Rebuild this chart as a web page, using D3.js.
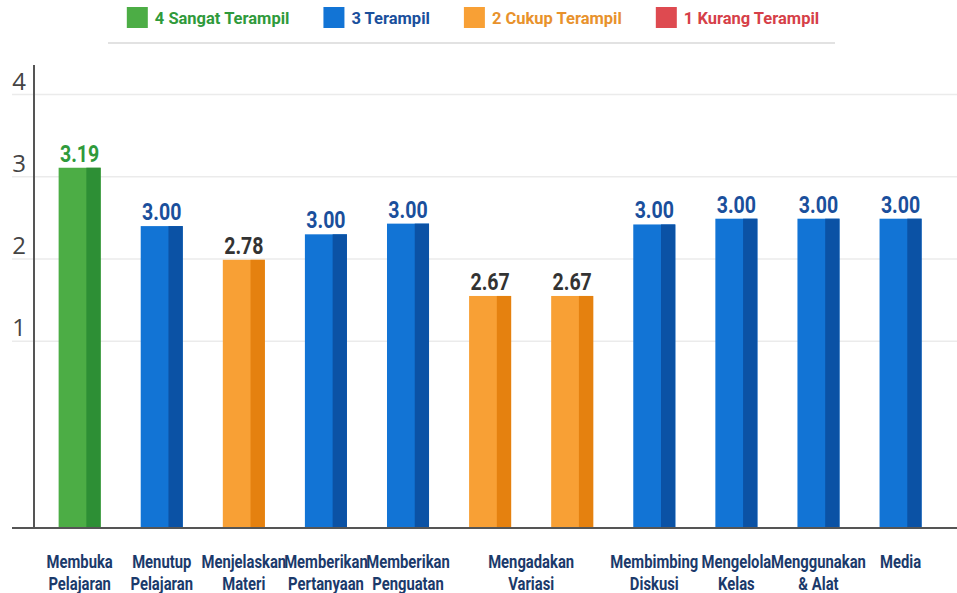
<!DOCTYPE html>
<html><head><meta charset="utf-8">
<script src="https://cdn.jsdelivr.net/npm/d3@7/dist/d3.min.js"></script>
<style>
html,body{margin:0;padding:0;background:#fff;}
svg{display:block;}
</style></head>
<body>
<div id="chart"></div>
<script>
// ---- data ----
const labelValues = [3.19, 3.00, 2.78, 3.00, 3.00, 2.67, 2.67, 3.00, 3.00, 3.00, 3.00];
// bar heights as drawn in the picture, in axis units
const barLevels   = [3.11, 2.40, 1.99, 2.30, 2.43, 1.55, 1.55, 2.42, 2.49, 2.49, 2.49];
// category group (legend key) per bar
const barGroups   = [4, 3, 2, 3, 3, 2, 2, 3, 3, 3, 3];
// x-axis labels: text lines and the bars they sit under
const axisLabels = [
  {lines:["Membuka","Pelajaran"], bars:[0]},
  {lines:["Menutup","Pelajaran"], bars:[1]},
  {lines:["Menjelaskan","Materi"], bars:[2]},
  {lines:["Memberikan","Pertanyaan"], bars:[3]},
  {lines:["Memberikan","Penguatan"], bars:[4]},
  {lines:["Mengadakan","Variasi"], bars:[5,6]},
  {lines:["Membimbing","Diskusi"], bars:[7]},
  {lines:["Mengelola","Kelas"], bars:[8]},
  {lines:["Menggunakan","& Alat"], bars:[9]},
  {lines:["Media"], bars:[10]}
];
const legendKeys   = [4, 3, 2, 1];
const legendLabels = ["4 Sangat Terampil", "3 Terampil", "2 Cukup Terampil", "1 Kurang Terampil"];
const yTicks = [1, 2, 3, 4];

// ---- styles ----
const FONT = "Roboto,'Noto Sans',sans-serif";
const light = {4:"#4cad45", 3:"#1274d5", 2:"#f8a035", 1:"#de4a50"};
const dark  = {4:"#2d8f35", 3:"#0b52a5", 2:"#e5810f", 1:"#b8333a"};
const legendText = {4:"#2f9a3b", 3:"#1a4f9c", 2:"#e8922c", 1:"#d63f48"};
const valueText  = {4:"#2f9a3b", 3:"#1a4f9c", 2:"#333333", 1:"#333333"};

const W = 957, H = 593;
const svg = d3.select("#chart").append("svg").attr("width", W).attr("height", H);

const x = d3.scaleBand().domain(d3.range(labelValues.length))
  .range([38.1, 942.1]).paddingInner(0.488).paddingOuter(0.25);
const y = d3.scaleLinear().domain([-1.273, 4.36]).range([528, 65]);
const base = y(y.domain()[0]);

// gridlines
svg.append("g").selectAll("line").data(yTicks).join("line")
  .attr("x1", 12).attr("x2", W)
  .attr("y1", d => y(d)).attr("y2", d => y(d))
  .attr("stroke", "#ebebeb").attr("stroke-width", 1.5);

// y tick labels
svg.append("g").selectAll("text").data(yTicks).join("text")
  .attr("x", 19).attr("y", d => y(d) - 5)
  .attr("text-anchor", "middle")
  .attr("font-family", "'Open Sans','Noto Sans',sans-serif")
  .attr("font-size", 24).attr("fill", "#444")
  .text(d => d);

// bars
const bars = svg.append("g").selectAll("g")
  .data(labelValues.map((v,i)=>({v, lvl:barLevels[i], g:barGroups[i], i})))
  .join("g");
bars.append("rect")
  .attr("x", d => x(d.i)).attr("width", x.bandwidth())
  .attr("y", d => y(d.lvl)).attr("height", d => base - y(d.lvl))
  .attr("fill", d => light[d.g]);
bars.append("rect")
  .attr("x", d => x(d.i) + x.bandwidth()*0.66).attr("width", x.bandwidth()*0.34)
  .attr("y", d => y(d.lvl)).attr("height", d => base - y(d.lvl))
  .attr("fill", d => dark[d.g]);
bars.append("text")
  .attr("transform", d => `translate(${x(d.i) + x.bandwidth()/2},${y(d.lvl) - 6}) scale(0.85,1)`)
  .attr("text-anchor", "middle")
  .attr("font-family", FONT).attr("font-weight", "bold").attr("font-size", 23)
  .attr("fill", d => valueText[d.g])
  .text(d => d.v.toFixed(2));

// axes lines
svg.append("line").attr("x1", 34).attr("x2", 34).attr("y1", 65).attr("y2", base)
  .attr("stroke", "#555").attr("stroke-width", 2);
svg.append("line").attr("x1", 12).attr("x2", W).attr("y1", base).attr("y2", base)
  .attr("stroke", "#555").attr("stroke-width", 2);

// x labels
const xl = svg.append("g").selectAll("text").data(axisLabels).join("text")
  .attr("text-anchor", "middle")
  .attr("font-family", FONT).attr("font-weight", "bold").attr("font-size", 18.5)
  .attr("fill", "#1b3a6b")
  .attr("transform", d => `translate(${d3.mean(d.bars, b => x(b) + x.bandwidth()/2)},568) scale(0.8,1)`);
xl.selectAll("tspan").data(d => d.lines).join("tspan")
  .attr("x", 0).attr("y", (d,i) => i*22).text(d => d);

// legend (laid out sequentially, centred on the chart)
const lg = svg.append("g").attr("transform", "translate(0,7)");
const items = lg.selectAll("g").data(legendKeys).join("g");
items.append("rect").attr("width", 21).attr("height", 21).attr("fill", d => light[d]);
items.append("text").attr("x", 28).attr("y", 16.5)
  .attr("font-family", FONT).attr("font-weight", "bold").attr("font-size", 16.5)
  .attr("fill", d => legendText[d])
  .text((d,i) => legendLabels[i]);
let cx = 0;
const offs = [];
const GAP = 34;
items.each(function(){
  const w = d3.select(this).select("text").node().getComputedTextLength();
  offs.push(cx);
  cx += 28 + w + GAP;
});
const totalW = cx - GAP;
const startX = 473 - totalW/2;
items.attr("transform", (d,i) => `translate(${startX + offs[i]},0)`);
svg.append("line").attr("x1", 108).attr("x2", 835).attr("y1", 43).attr("y2", 43)
  .attr("stroke", "#e2e2e2").attr("stroke-width", 2);
</script>
</body></html>
